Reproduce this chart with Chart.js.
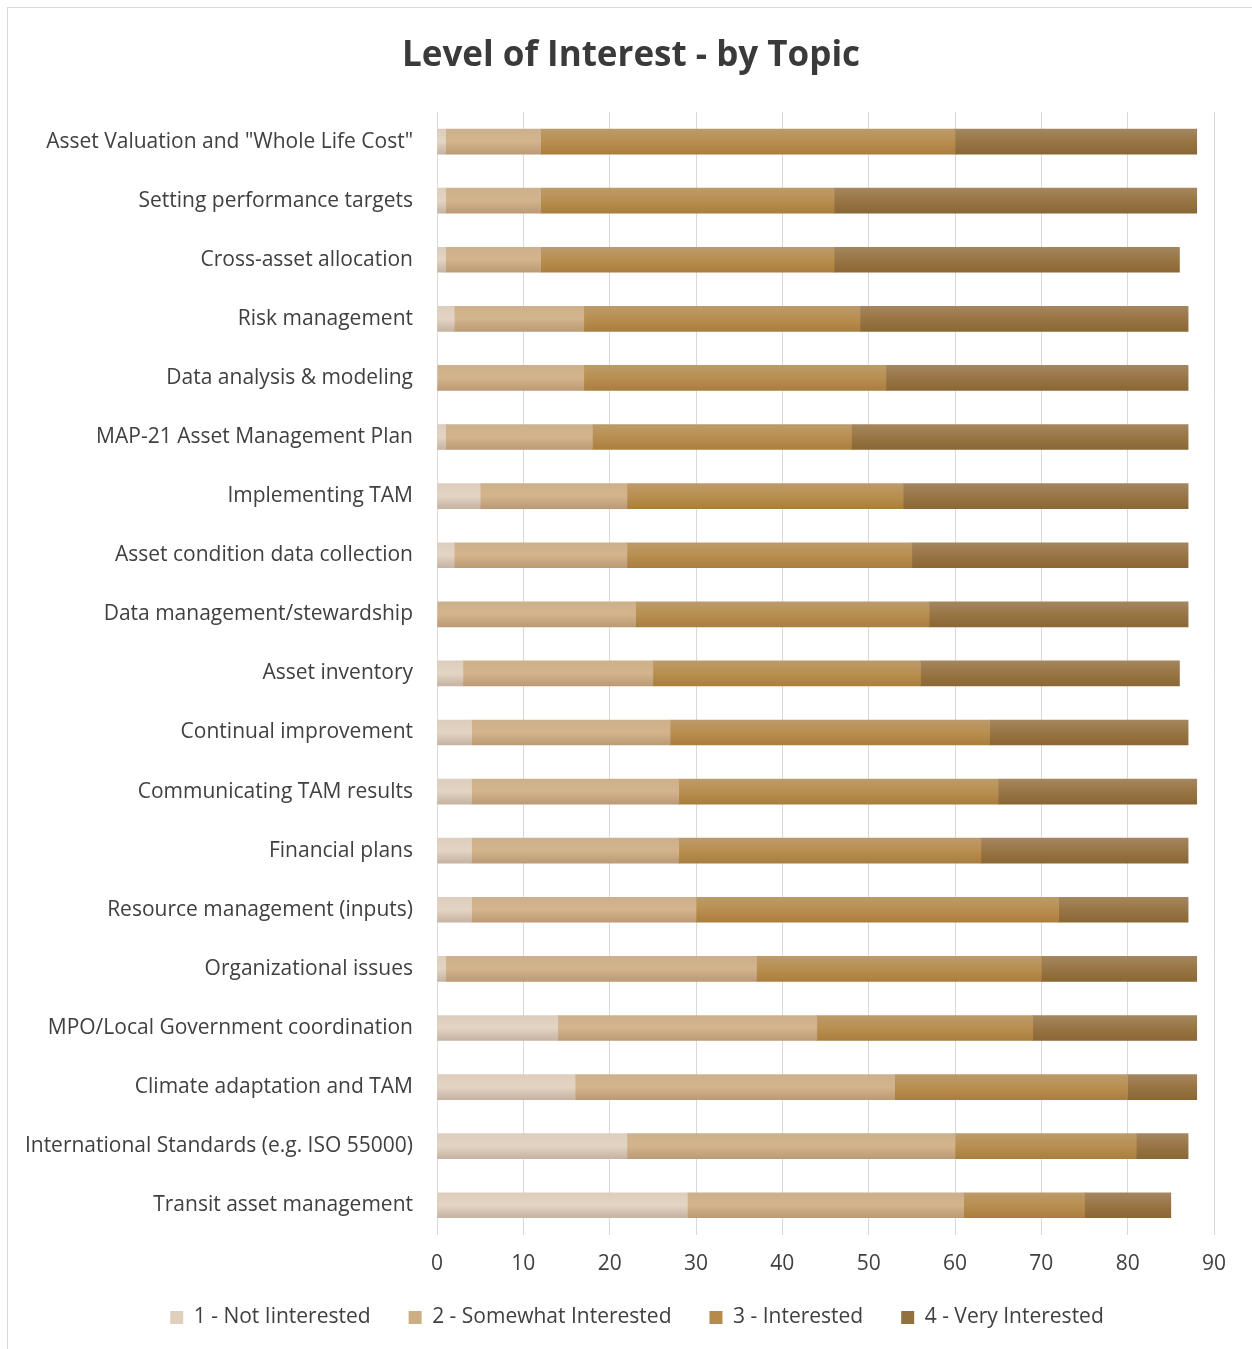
<!DOCTYPE html>
<html>
<head>
<meta charset="utf-8">
<script src="https://cdn.jsdelivr.net/npm/chart.js@4"></script>
<style>
  html, body { margin: 0; padding: 0; background: #ffffff; overflow: hidden; }
  #frame { position: absolute; left: 7px; top: 7px; width: 1300px; height: 1400px; border: 1px solid #d9d9d9; box-sizing: border-box; }
  #wrap { position: absolute; left: 0; top: 0; width: 1252px; height: 1377px; }
</style>
</head>
<body>
<div id="frame"></div>
<div id="wrap"><canvas id="c" width="1252" height="1377"></canvas></div>
<script>
const categories = [
  'Asset Valuation and "Whole Life Cost"',
  'Setting performance targets',
  'Cross-asset allocation',
  'Risk management',
  'Data analysis & modeling',
  'MAP-21 Asset Management Plan',
  'Implementing TAM',
  'Asset condition data collection',
  'Data management/stewardship',
  'Asset inventory',
  'Continual improvement',
  'Communicating TAM results',
  'Financial plans',
  'Resource management (inputs)',
  'Organizational issues',
  'MPO/Local Government coordination',
  'Climate adaptation and TAM',
  'International Standards (e.g. ISO 55000)',
  'Transit asset management'
];
const seriesNames = ['1 - Not Iinterested', '2 - Somewhat Interested', '3 - Interested', '4 - Very Interested'];
const notInterested      = [1, 1, 1, 2, 0, 1, 5, 2, 0, 3, 4, 4, 4, 4, 1, 14, 16, 22, 29];
const somewhatInterested = [11, 11, 11, 15, 17, 17, 17, 20, 23, 22, 23, 24, 24, 26, 36, 30, 37, 38, 32];
const interested         = [48, 34, 34, 32, 35, 30, 32, 33, 34, 31, 37, 37, 35, 42, 33, 25, 27, 21, 14];
const veryInterested     = [28, 42, 40, 38, 35, 39, 33, 32, 30, 30, 23, 23, 24, 15, 18, 19, 8, 6, 10];
const xTicks = [0, 10, 20, 30, 40, 50, 60, 70, 80, 90];

const BAR_H = 25;
const palettes = [
  { stops: ['#ddcdbc', '#e3d4c3', '#c6b3a2'], solid: '#dfcfbd' },
  { stops: ['#cdb08c', '#d3b48c', '#bb9a75'], solid: '#cfad82' },
  { stops: ['#bc9a6a', '#b98f50', '#a97e3f'], solid: '#b58a4b' },
  { stops: ['#a4865f', '#997545', '#8a6734'], solid: '#93713f' }
];
function gradFill(p) {
  return (ctx) => {
    const chart = ctx.chart;
    const ys = chart.scales && chart.scales.y;
    if (!ys || ctx.dataIndex == null || !chart.chartArea) return p.solid;
    const c = ys.getPixelForValue(ctx.dataIndex);
    if (!isFinite(c)) return p.solid;
    const g = chart.ctx.createLinearGradient(0, c - BAR_H / 2, 0, c + BAR_H / 2);
    g.addColorStop(0, p.stops[0]);
    g.addColorStop(0.5, p.stops[1]);
    g.addColorStop(1, p.stops[2]);
    return g;
  };
}
const values = [notInterested, somewhatInterested, interested, veryInterested];
const datasets = values.map((v, i) => ({
  label: seriesNames[i],
  data: v,
  backgroundColor: gradFill(palettes[i]),
  borderWidth: 0,
  barThickness: BAR_H
}));

// shift title / legend boxes to match the original's off-centre placement
const shiftBoxes = {
  id: 'shiftBoxes',
  afterLayout(chart) {
    const t = chart.titleBlock;
    if (t) { t.left += 24; t.right += 24; }
    const l = chart.legend;
    if (l) {
      const dx = 30, dy = -25;
      l.left += dx; l.right += dx;
      l.top += dy; l.bottom += dy;
      if (l.legendHitBoxes) l.legendHitBoxes.forEach(b => { b.left += dx; b.top += dy; });
    }
  }
};

const FONT = '"Open Sans", "DejaVu Sans", sans-serif';
new Chart(document.getElementById('c'), {
  type: 'bar',
  data: { labels: categories, datasets },
  plugins: [shiftBoxes],
  options: {
    indexAxis: 'y',
    responsive: false,
    animation: false,
    layout: { padding: { left: 0, right: 38, top: 10, bottom: 14 } },
    plugins: {
      tooltip: { enabled: false },
      title: {
        display: true,
        text: 'Level of Interest - by Topic',
        color: '#3a3a3a',
        font: { family: FONT, size: 35, weight: 'bold' },
        padding: { top: 25, bottom: 35 }
      },
      legend: {
        position: 'bottom',
        labels: {
          color: '#404040',
          font: { family: FONT, size: 21 },
          boxWidth: 13,
          boxHeight: 13,
          padding: 38,
          generateLabels: (chart) => seriesNames.map((n, i) => ({
            text: n, fillStyle: palettes[i].solid, strokeStyle: palettes[i].solid,
            lineWidth: 0, datasetIndex: i, hidden: false, fontColor: '#404040'
          }))
        }
      }
    },
    scales: {
      x: {
        stacked: true,
        min: 0, max: 90,
        afterBuildTicks: (s) => { s.ticks = xTicks.map(v => ({ value: v })); },
        grid: { color: '#d9d9d9', lineWidth: 1, drawTicks: false },
        border: { display: false },
        ticks: { color: '#404040', font: { family: FONT, size: 21 }, padding: 17 }
      },
      y: {
        stacked: true,
        afterFit: (s) => { s.width = 437; },
        grid: { display: false, drawTicks: false },
        border: { display: false },
        ticks: { color: '#404040', font: { family: FONT, size: 21 }, padding: 24, autoSkip: false }
      }
    }
  }
});
</script>
</body>
</html>
